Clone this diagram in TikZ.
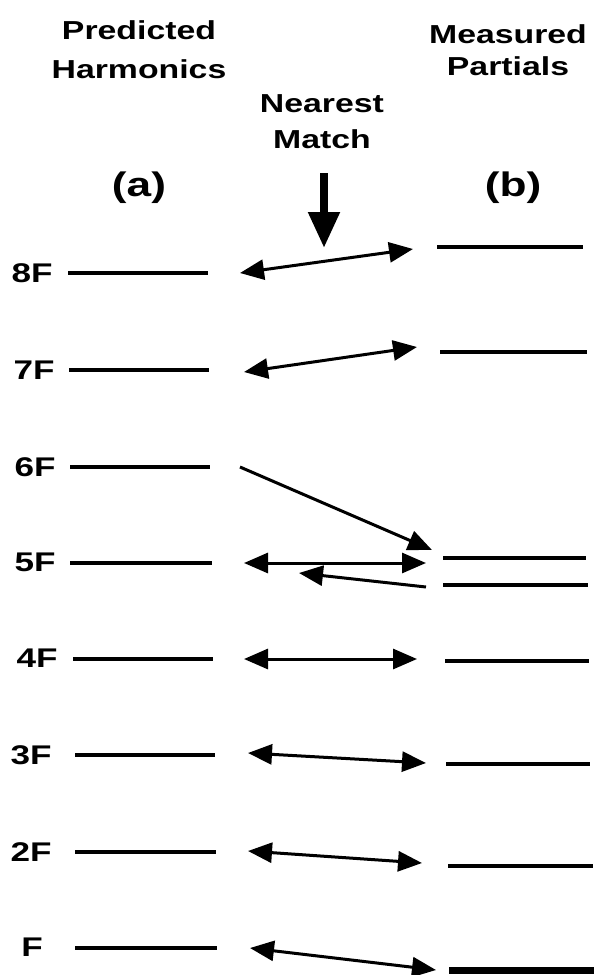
\documentclass[tikz,border=0pt]{standalone}
\usepackage{fontspec}
\usetikzlibrary{arrows.meta}
\newfontfamily\hdfont{Liberation Sans}[FakeStretch=1.3]
\tikzset{
  level/.style={line width=4.5pt},
  head/.style={font=\hdfont\bfseries\fontsize{26}{30}\selectfont, inner sep=0pt, anchor=base},
  tag/.style={font=\hdfont\bfseries\fontsize{27}{30}\selectfont, inner sep=0pt, anchor=center},
  paren/.style={font=\hdfont\bfseries\fontsize{34}{36}\selectfont, inner sep=0pt, anchor=base},
  match/.style={line width=3pt, {Triangle[length=24pt,width=20pt]}-{Triangle[length=24pt,width=20pt]}},
  single/.style={line width=3pt, -{Triangle[length=24pt,width=20pt]}},
  down/.style={line width=8pt, -{Triangle[length=36pt,width=30pt]}},
}
\begin{document}
\begin{tikzpicture}[x=1pt,y=-1pt]
\useasboundingbox[fill=white] (0,0) rectangle (594,975);

% headings
\node[head] (pred) at (139,39) {Predicted};
\node[head] (harm) at (139,78) {Harmonics};
\node[head] (meas) at (508,43) {Measured};
\node[head] (part) at (508,75) {Partials};
\node[head] (near) at (322,112) {Nearest};
\node[head] (mtch) at (322,148) {Match};
\node[paren] (pa) at (139,196) {(a)};
\node[paren] (pb) at (513,196) {(b)};

% nearest match pointer
\coordinate (dtop) at (324,173);
\coordinate (dtip) at (324,248);
\draw[down] (dtop) -- (dtip);

% harmonic labels
\node[tag] (l8) at (32,273) {8F};
\node[tag] (l7) at (34,370) {7F};
\node[tag] (l6) at (35,467) {6F};
\node[tag] (l5) at (35,562) {5F};
\node[tag] (l4) at (37,658) {4F};
\node[tag] (l3) at (31,755) {3F};
\node[tag] (l2) at (31,852) {2F};
\node[tag] (l1) at (32,947) {F};

% predicted harmonic levels (a)
\coordinate (a8s) at (68,273);  \coordinate (a8e) at (208,273);
\coordinate (a7s) at (69,370);  \coordinate (a7e) at (209,370);
\coordinate (a6s) at (70,467);  \coordinate (a6e) at (210,467);
\coordinate (a5s) at (70,563);  \coordinate (a5e) at (212,563);
\coordinate (a4s) at (73,659);  \coordinate (a4e) at (213,659);
\coordinate (a3s) at (75,755);  \coordinate (a3e) at (215,755);
\coordinate (a2s) at (75,852);  \coordinate (a2e) at (216,852);
\coordinate (a1s) at (75,948);  \coordinate (a1e) at (217,948);
\foreach \i in {1,...,8} \draw[level] (a\i s) -- (a\i e);

% measured partial levels (b)
\coordinate (b8s) at (437,247);  \coordinate (b8e) at (583,247);
\coordinate (b7s) at (440,352);  \coordinate (b7e) at (587,352);
\coordinate (b5s) at (443,558);  \coordinate (b5e) at (586,558);
\coordinate (b9s) at (443,585);  \coordinate (b9e) at (588,585);
\coordinate (b4s) at (445,661);  \coordinate (b4e) at (589,661);
\coordinate (b3s) at (446,764);  \coordinate (b3e) at (590,764);
\coordinate (b2s) at (448,866);  \coordinate (b2e) at (593,866);
\coordinate (b1s) at (449,970);  \coordinate (b1e) at (594,970);
\foreach \i in {8,7,5,9,4,3,2} \draw[level] (b\i s) -- (b\i e);
\draw[line width=7pt] (b1s) -- (b1e);

% matching arrows
\coordinate (m8l) at (240,273); \coordinate (m8r) at (413,249);
\coordinate (m7l) at (244,372); \coordinate (m7r) at (417,347);
\coordinate (m6l) at (240,467); \coordinate (m6r) at (432,550);
\coordinate (m5l) at (244,563); \coordinate (m5r) at (426,563);
\coordinate (m9r) at (426,587); \coordinate (m9l) at (299,573);
\coordinate (m4l) at (244,659); \coordinate (m4r) at (417,659);
\coordinate (m3l) at (248,753); \coordinate (m3r) at (426,763);
\coordinate (m2l) at (248,851); \coordinate (m2r) at (422,863);
\coordinate (m1l) at (250,948); \coordinate (m1r) at (436,970);

\draw[match] (m8l) -- (m8r);
\draw[match] (m7l) -- (m7r);
\draw[single] (m6l) -- (m6r);
\draw[match] (m5l) -- (m5r);
\draw[single] (m9r) -- (m9l);
\draw[match] (m4l) -- (m4r);
\draw[match] (m3l) -- (m3r);
\draw[match] (m2l) -- (m2r);
\draw[match] (m1l) -- (m1r);
\end{tikzpicture}
\end{document}
